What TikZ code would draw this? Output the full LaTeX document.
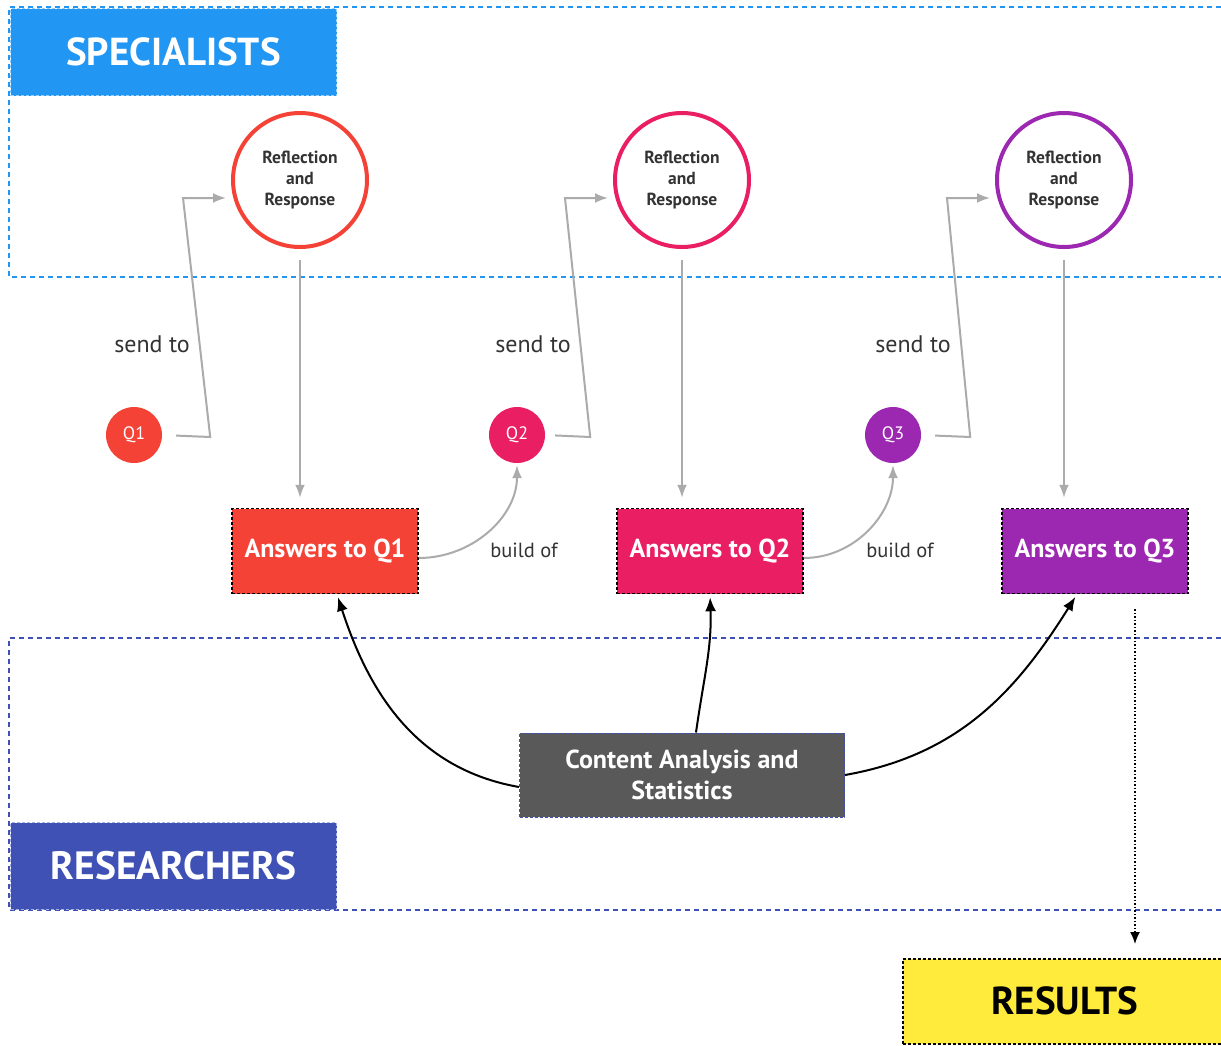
\documentclass[tikz,border=0pt]{standalone}
\usepackage{fontspec}
\setmainfont{PT Sans}
\usetikzlibrary{positioning}
\usetikzlibrary{arrows.meta,calc}
\definecolor{specblue}{HTML}{2196F3}
\definecolor{resblue}{HTML}{3F51B5}
\definecolor{qred}{HTML}{F44336}
\definecolor{qpink}{HTML}{E91E63}
\definecolor{qpurple}{HTML}{9C27B0}
\definecolor{anagray}{HTML}{595959}
\definecolor{resyellow}{HTML}{FFEB3B}
\definecolor{linegray}{HTML}{ABABAB}
\definecolor{textgray}{HTML}{333333}
\tikzset{line/.style={draw, line width=2pt, linegray, -{Latex[length=13pt, width=10pt]}}}
\tikzset{blackline/.style={draw, line width=2pt, black, -{Latex[length=14pt, width=11pt]}}}

\begin{document}
\begin{tikzpicture}[x=1pt, y=-1pt]
\tikzstyle{region} = [line width=1.5pt, dash pattern=on 5pt off 4pt]
\tikzstyle{groupname} = [rectangle, densely dashed, line width=1pt, text=white, font=\bfseries\fontsize{39}{42}\selectfont, minimum width=326pt, minimum height=87pt, inner sep=0pt]
\tikzstyle{reflect} = [circle, draw, line width=4pt, fill=white, minimum size=134pt, inner sep=0pt, align=center, text=textgray, font=\bfseries\fontsize{17.5}{21}\selectfont]
\tikzstyle{question} = [circle, minimum size=56pt, inner sep=0pt, text=white, font=\fontsize{18}{20}\selectfont]
\tikzstyle{answer} = [rectangle, draw=black, dash pattern=on 3pt off 2pt, line width=1.5pt, minimum width=186pt, minimum height=85pt, text=white, font=\bfseries\fontsize{26}{28}\selectfont]
\tikzstyle{linktext} = [text=textgray, font=\fontsize{22}{26}\selectfont]

\useasboundingbox (0,0) rectangle (1221,1045);
% regions
    \draw [region, specblue] (1221,7) -- (9,7) -- (9,277) -- (1221,277);
    \draw [region, resblue] (1221,638) -- (9,638) -- (9,910) -- (1221,910);
% blocks
    % groups
    \node [groupname, fill=specblue, draw=specblue!45!white, anchor=north west] (specialists) at (10,8) {SPECIALISTS};
    \node [groupname, fill=resblue, draw=resblue!45!white, anchor=north west, font=\bfseries\fontsize{39.5}{42}\selectfont] (researchers) at (10,822) {RESEARCHERS};
    % specialists
    \node [reflect, draw=qred] (reflect1) at (300,180) {Reflection\\and\\Response};
    \node [reflect, draw=qpink, right of=reflect1, node distance=382pt] (reflect2) {Reflection\\and\\Response};
    \node [reflect, draw=qpurple, right of=reflect2, node distance=382pt] (reflect3) {Reflection\\and\\Response};
    % questions
    \node [question, fill=qred] (q1) at (134,435) {Q1};
    \node [question, fill=qpink] (q2) at (517,435) {Q2};
    \node [question, fill=qpurple] (q3) at (893,435) {Q3};
    \node [linktext, font=\fontsize{24}{26}\selectfont] (send1) at (152,344) {send to};
    \node [linktext, font=\fontsize{24}{26}\selectfont] (send2) at (533,344) {send to};
    \node [linktext, font=\fontsize{24}{26}\selectfont] (send3) at (913,344) {send to};
    % answers
    \node [answer, fill=qred] (a1) at (325,551) {Answers to Q1};
    \node [answer, fill=qpink, right of=a1, node distance=385pt] (a2) {Answers to Q2};
    \node [answer, fill=qpurple, right of=a2, node distance=385pt] (a3) {Answers to Q3};
    \node [linktext, font=\fontsize{20.5}{24}\selectfont] (build1) at (524,550) {build of};
    \node [linktext, font=\fontsize{20.5}{24}\selectfont] (build2) at (900,550) {build of};
    % researchers
    \node [rectangle, fill=anagray, draw=resblue, densely dashed, line width=1pt, minimum width=325pt, minimum height=84pt, align=center, text=white, font=\bfseries\fontsize{26}{31}\selectfont] (analysis) at (682,775) {Content Analysis and\\Statistics};
    % results
    \node [rectangle, fill=resyellow, draw=black, dash pattern=on 3pt off 2pt, line width=1.5pt, minimum width=324pt, minimum height=85pt, font=\bfseries\fontsize{39}{42}\selectfont, anchor=north west] (results) at (902,958) {RESULTS};
% arrows
    % send to
    \path [line, shorten <=14pt, shorten >=5pt] (q1.east) -- ($(q1.east)+(48,2)$) -- ($(reflect1.west)+(-48,18)$) -- ($(reflect1.west)+(0,18)$);
    \path [line, shorten <=10pt, shorten >=5pt] (q2.east) -- ($(q2.east)+(45,2)$) -- ($(reflect2.west)+(-48,18)$) -- ($(reflect2.west)+(0,18)$);
    \path [line, shorten <=14pt, shorten >=5pt] (q3.east) -- ($(q3.east)+(49,2)$) -- ($(reflect3.west)+(-48,18)$) -- ($(reflect3.west)+(0,18)$);
    % reflection to answers
    \path [line, shorten <=11pt, shorten >=10pt] (reflect1.south) -- (reflect1.south |- a1.north);
    \path [line, shorten <=11pt, shorten >=10pt] (reflect2.south) -- (reflect2.south |- a2.north);
    \path [line, shorten <=11pt, shorten >=10pt] (reflect3.south) -- (reflect3.south |- a3.north);
    % build of
    \path [line, shorten >=2pt] ([yshift=-7pt]a1.east) to [out=0, in=-90] (q2.south);
    \path [line, shorten >=2pt] ([yshift=-7pt]a2.east) to [out=0, in=-90] (q3.south);
    % analysis
    \path [blackline, shorten >=3pt] ([yshift=-12pt]analysis.west) to [out=170, in=-72] ([xshift=12pt]a1.south);
    \path [blackline, shorten >=3pt] ([xshift=14pt]analysis.north) to [out=82, in=-88] (a2.south);
    \path [blackline, shorten >=3pt] (analysis.east) to [out=10, in=-122] ([xshift=-18pt]a3.south);
    % results
    \path [draw, line width=1.5pt, dotted, -{Latex[length=12pt, width=10pt]}, shorten <=15pt, shorten >=14pt] ([xshift=40pt]a3.south) -- ([xshift=40pt]a3.south |- results.north);
\end{tikzpicture}
\end{document}
